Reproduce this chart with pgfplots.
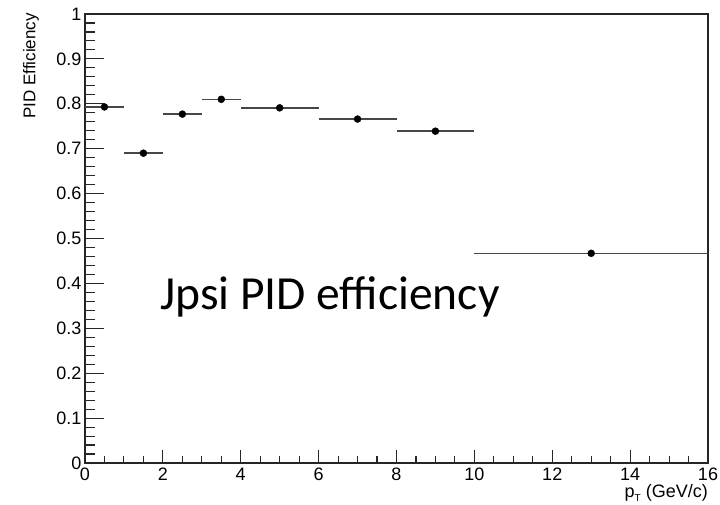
\documentclass[border=0pt]{standalone}
\usepackage{pgfplots}
\pgfplotsset{compat=1.18}
\usepackage{fontspec}
\setmainfont{Liberation Sans}
\newfontfamily\calibri{Carlito}
\pgfplotstableread{
x y ex
0.5 0.793 0.5
1.5 0.690 0.5
2.5 0.777 0.5
3.5 0.810 0.5
5 0.791 1
7 0.766 1
9 0.739 1
13 0.467 3
}\pideff
\begin{document}
\begin{tikzpicture}
\path[use as bounding box] (-85pt,-42pt) rectangle (635pt,463pt);
\pgfplotsset{common/.style={scale only axis, width=623pt, height=449pt,
  xmin=0, xmax=16, ymin=0, ymax=1,
  tick align=inside, tick pos=left,
  axis line style={black!85, line width=1.1pt},
  tick style={black!85, line width=1.1pt},
  /pgf/number format/assume math mode=true,
  ticklabel style={font=\fontsize{18}{21}\selectfont},
}}
% x ticks
\begin{axis}[common,
  xtick={0,2,4,6,8,10,12,14,16}, minor x tick num=3, ytick=\empty,
  major tick length=12.5pt, minor tick length=6.5pt,
  xticklabel style={yshift=-1.5pt},
]
\end{axis}
% y ticks and data
\begin{axis}[common,
  xtick=\empty, ytick={0,0.1,0.2,0.3,0.4,0.5,0.6,0.7,0.8,0.9,1},
  minor y tick num=4,
  major tick length=19pt, minor tick length=9.5pt,
]
\addplot[only marks, mark=*, mark size=3.5pt, black,
  error bars/.cd, x dir=both, x explicit,
  error bar style={black!72, line width=1.5pt}, error mark=none]
  table[x=x, y=y, x error=ex] {\pideff};
\end{axis}
\node[rotate=90, anchor=east, inner sep=0, font=\fontsize{17}{20}\selectfont] at (-54pt,450pt) {PID Efficiency};
\node[anchor=base east, inner sep=0, font=\fontsize{18}{21}\selectfont] at (623pt,-35pt) {p\raisebox{-0.4ex}{\fontsize{10}{10}\selectfont T} (GeV/c)};
\node[anchor=base west, inner sep=0, font=\calibri\fontsize{47.5}{52}\selectfont] at (75pt,153pt) {Jpsi PID efficiency};
\end{tikzpicture}
\end{document}
